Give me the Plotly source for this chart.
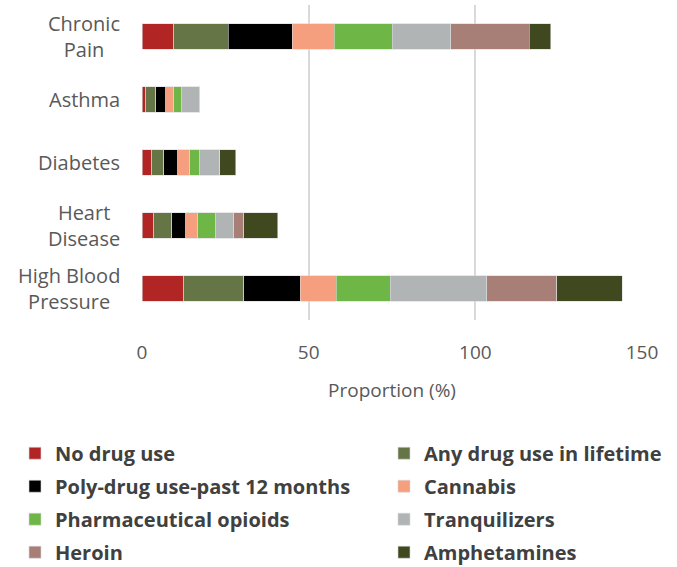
import plotly.graph_objects as go

categories = ["Chronic<br>Pain", "Asthma", "Diabetes", "Heart<br>Disease", "High Blood<br>Pressure"]

series_names = [
    "No drug use",
    "Any drug use in lifetime",
    "Poly-drug use-past 12 months",
    "Cannabis",
    "Pharmaceutical opioids",
    "Tranquilizers",
    "Heroin",
    "Amphetamines",
]

no_drug_use = [9.5, 1.1, 2.9, 3.5, 12.5]
any_drug_use = [16.3, 3.0, 3.6, 5.4, 18.0]
poly_drug_use = [19.2, 3.0, 4.2, 4.2, 16.9]
cannabis = [12.6, 2.4, 3.6, 3.6, 10.8]
pharma_opioids = [17.5, 2.4, 3.0, 5.4, 16.2]
tranquilizers = [17.5, 5.4, 6.0, 5.4, 29.0]
heroin = [23.5, 0, 0, 3.0, 21.0]
amphetamines = [6.5, 0, 4.8, 10.2, 19.7]

series_values = [no_drug_use, any_drug_use, poly_drug_use, cannabis,
                 pharma_opioids, tranquilizers, heroin, amphetamines]

colors = ["#B22525", "#657545", "#000000", "#F59F7E",
          "#6EB646", "#B1B4B4", "#A87F76", "#3F481F"]

x_ticks = [0, 50, 100, 150]

FONT = "'Open Sans', sans-serif"
TEXT = "#595959"

fig = go.Figure()
for i, (name, vals, col) in enumerate(zip(series_names, series_values, colors)):
    # legend is two columns: even entries left, odd entries right
    fig.add_trace(go.Bar(
        name=name,
        y=categories,
        x=vals,
        orientation="h",
        marker=dict(color=col, line=dict(color="#D9D9D9", width=0.6)),
        legend="legend" if i % 2 == 0 else "legend2",
        legendgroup=name,
    ))

# category labels drawn as centred multi-line text left of the axis
for cat in categories:
    fig.add_annotation(
        x=0, xref="paper", xanchor="right", xshift=-20,
        y=cat, yref="y", yanchor="middle",
        text=cat, showarrow=False, align="center",
        font=dict(family=FONT, size=20, color=TEXT),
    )

legend_font = dict(family=FONT, size=20, color="#404040", weight="bold")

fig.update_layout(
    barmode="stack",
    bargap=0.59,
    width=677, height=567,
    margin=dict(l=142, r=35, t=5, b=247, autoexpand=False),
    plot_bgcolor="white",
    paper_bgcolor="white",
    font=dict(family=FONT, color=TEXT),
    xaxis=dict(
        range=[0, 150],
        tickvals=x_ticks,
        showgrid=True, gridcolor="#D9D9D9", gridwidth=2,
        zeroline=False,
        tickfont=dict(size=19, color=TEXT),
        ticks="", ticklabelstandoff=19,
        title=dict(text="Proportion (%)", font=dict(size=19, color=TEXT), standoff=19),
        fixedrange=True,
    ),
    yaxis=dict(
        autorange="reversed",
        showticklabels=False,
        showgrid=False,
        fixedrange=True,
    ),
    legend=dict(
        orientation="v",
        x=-0.254, xanchor="left",
        y=-0.361, yanchor="top",
        traceorder="grouped", tracegroupgap=4,
        font=legend_font,
    ),
    legend2=dict(
        orientation="v",
        x=0.484, xanchor="left",
        y=-0.361, yanchor="top",
        traceorder="grouped", tracegroupgap=4,
        font=legend_font,
    ),
)

# drop the default page margin so the figure sits at the window corner
fig.write_html("out.html", config={"displayModeBar": False},
               post_script="document.body.style.margin='0px';")
